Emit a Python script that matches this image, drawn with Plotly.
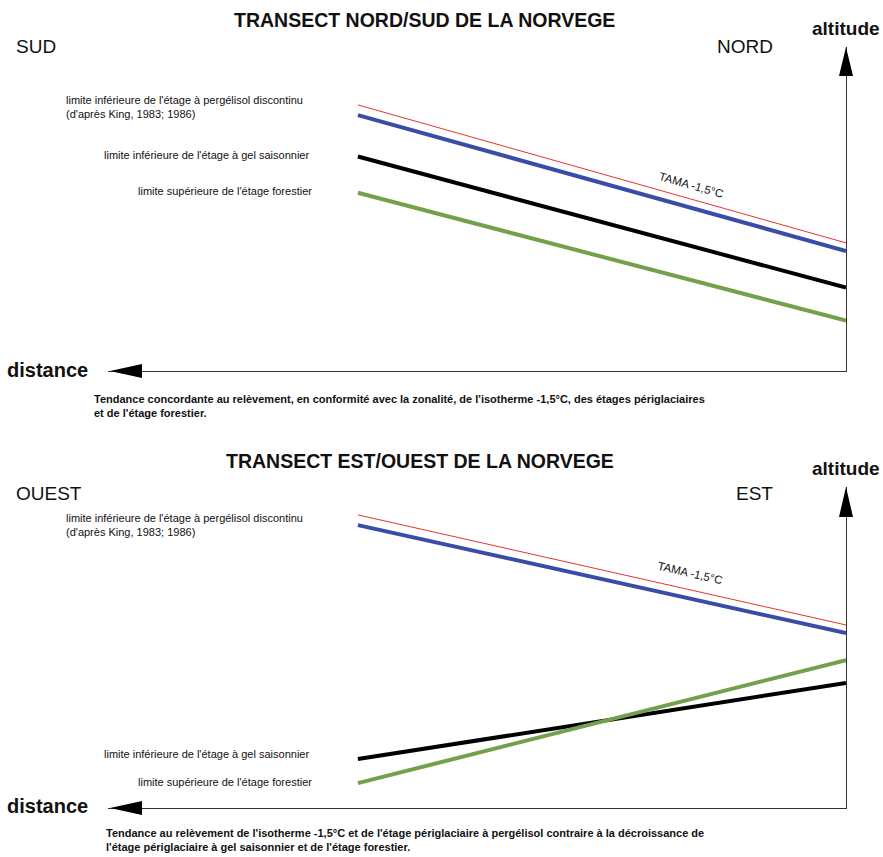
import plotly.graph_objects as go

W, H = 883, 857

# ---------------- data (arbitrary units: distance from the altitude axis, altitude) -------------
distance = [100, 0]          # distance (axis points left, origin at the right)

# Transect Nord/Sud
ns_tama = [88.7, 42.7]       # isotherme TAMA -1,5°C
ns_pergelisol = [85.3, 40.0]  # limite inférieure de l'étage à pergélisol discontinu
ns_gel = [71.5, 27.8]        # limite inférieure de l'étage à gel saisonnier
ns_forest = [59.4, 16.8]     # limite supérieure de l'étage forestier

# Transect Est/Ouest
eo_tama = [97.7, 61.0]
eo_pergelisol = [94.3, 58.3]
eo_gel = [16.3, 41.7]
eo_forest = [8.3, 49.3]

BLUE = "#3a4ca8"
GREEN = "#74a04b"
BLACK = "#000000"
RED = "#e8332e"

NARROW = "Liberation Sans Narrow, Arial Narrow, Liberation Sans, Arial, sans-serif"
SANS = "Liberation Sans, Arial, sans-serif"


def px(x):
    return x / W


def py(y):
    return 1 - y / H


fig = go.Figure()

series = [
    ("x", "y", ns_tama, RED, 1),
    ("x", "y", ns_pergelisol, BLUE, 4),
    ("x", "y", ns_gel, BLACK, 4),
    ("x", "y", ns_forest, GREEN, 4),
    ("x2", "y2", eo_tama, RED, 1),
    ("x2", "y2", eo_pergelisol, BLUE, 4),
    ("x2", "y2", eo_gel, BLACK, 4),
    ("x2", "y2", eo_forest, GREEN, 4),
]
for xa, ya, vals, col, lw in series:
    fig.add_trace(go.Scatter(x=distance, y=vals, xaxis=xa, yaxis=ya, mode="lines",
                             line=dict(color=col, width=lw), hoverinfo="skip",
                             showlegend=False))

x_dom = [px(108), px(846)]
x_range = [151.2, 0]
common_x = dict(domain=x_dom, range=x_range, showgrid=False, zeroline=False,
                showticklabels=False, ticks="", showline=True, linecolor="#333333",
                linewidth=1, fixedrange=True)
common_y = dict(showgrid=False, zeroline=False, showticklabels=False, ticks="",
                showline=True, linecolor="#333333", linewidth=1, side="right",
                fixedrange=True)

fig.update_layout(
    width=W, height=H, margin=dict(l=0, r=0, t=0, b=0),
    paper_bgcolor="white", plot_bgcolor="white",
    xaxis=dict(**common_x, anchor="y"),
    yaxis=dict(**common_y, domain=[py(371), py(47)], range=[0, 108], anchor="x"),
    xaxis2=dict(**common_x, anchor="y2"),
    yaxis2=dict(**common_y, domain=[py(808), py(487)], range=[0, 107], anchor="x2"),
)

shapes = []


def up_arrow(xc, tip, base, half=7):
    return dict(type="path", xref="paper", yref="paper",
                path=f"M {px(xc)},{py(tip)} L {px(xc - half)},{py(base)} L {px(xc + half)},{py(base)} Z",
                fillcolor="black", line=dict(width=0))


def left_arrow(yc, tip, base, half=7):
    return dict(type="path", xref="paper", yref="paper",
                path=f"M {px(tip)},{py(yc)} L {px(base)},{py(yc - half)} L {px(base)},{py(yc + half)} Z",
                fillcolor="black", line=dict(width=0))


shapes += [up_arrow(846, 47, 76), left_arrow(371, 110, 142),
           up_arrow(846, 487, 517), left_arrow(808, 110, 142)]
fig.update_layout(shapes=shapes)

ann = []


def text(t, x, y, size, xanchor="center", family=SANS, bold=False, align="left",
         angle=0, color="#111111"):
    if bold:
        t = f"<b>{t}</b>"
    ann.append(dict(text=t, x=px(x), y=py(y), xref="paper", yref="paper",
                    showarrow=False, xanchor=xanchor, yanchor="middle", align=align,
                    textangle=angle, font=dict(size=size, family=family, color=color)))


label_perg = "limite inférieure de l'étage à pergélisol discontinu<br>(d'après King, 1983; 1986)"
label_gel = "limite inférieure de l'étage à gel saisonnier"
label_for = "limite supérieure de l'étage forestier"

# top panel
text("TRANSECT NORD/SUD DE LA NORVEGE", 424, 20, 19.5, family=NARROW, bold=True)
text("altitude", 846, 28, 19, family=NARROW, bold=True)
text("SUD", 14, 47, 19, xanchor="left", family=NARROW)
text("NORD", 775, 47, 19, xanchor="right", family=NARROW)
text("distance", 5, 370, 20, xanchor="left", family=NARROW, bold=True)
text(label_perg, 64, 107, 11, xanchor="left")
text(label_gel, 311, 155, 11, xanchor="right")
text(label_for, 314, 191, 11, xanchor="right")
text("TAMA -1,5°C", 691, 185, 11.5, angle=16)
text("Tendance concordante au relèvement, en conformité avec la zonalité, de l'isotherme -1,5°C, des étages périglaciaires<br>"
     "et de l'étage forestier.", 92, 406, 11, xanchor="left", family=NARROW, bold=True)

# bottom panel
text("TRANSECT EST/OUEST DE LA NORVEGE", 420, 461, 19.5, family=NARROW, bold=True)
text("altitude", 846, 468, 19, family=NARROW, bold=True)
text("OUEST", 14, 493, 19, xanchor="left", family=NARROW)
text("EST", 775, 493, 19, xanchor="right", family=NARROW)
text("distance", 5, 806, 20, xanchor="left", family=NARROW, bold=True)
text(label_perg, 64, 525, 11, xanchor="left")
text(label_gel, 311, 754, 11, xanchor="right")
text(label_for, 314, 782, 11, xanchor="right")
text("TAMA -1,5°C", 690, 573, 11.5, angle=13)
text("Tendance au relèvement de l'isotherme -1,5°C et de l'étage périglaciaire à pergélisol contraire à la décroissance de<br>"
     "l'étage périglaciaire à gel saisonnier et de l'étage forestier.", 104, 840, 11, xanchor="left",
     family=NARROW, bold=True)

fig.update_layout(annotations=ann)

fig.write_html("out.html", config={"displayModeBar": False},
               post_script="document.body.style.margin='0px';document.body.style.overflow='hidden';")
